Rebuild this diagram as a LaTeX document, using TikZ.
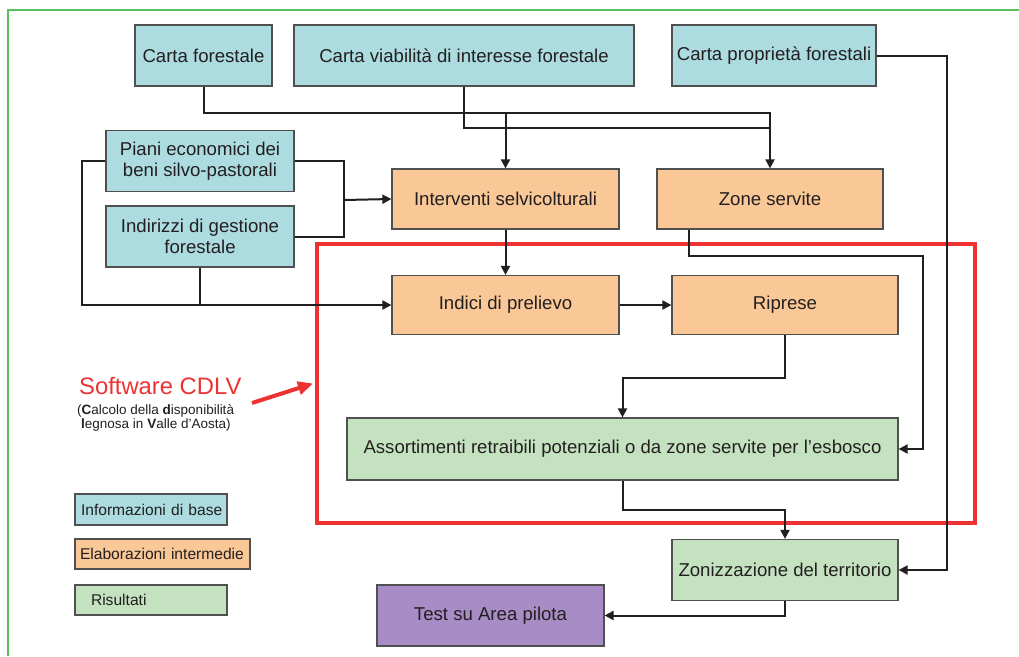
\documentclass[tikz,border=0pt]{standalone}
\usepackage{fontspec}
\setmainfont{Liberation Sans}
\usetikzlibrary{arrows.meta}

\definecolor{basecol}{RGB}{172,220,224}
\definecolor{midcol}{RGB}{250,200,150}
\definecolor{rescol}{RGB}{196,226,192}
\definecolor{testcol}{RGB}{168,140,198}
\definecolor{edgecol}{RGB}{80,80,80}
\definecolor{linecol}{RGB}{35,31,32}
\definecolor{cdlvred}{RGB}{238,50,50}
\definecolor{framegreen}{RGB}{90,190,90}

\begin{document}
\begin{tikzpicture}[x=1pt, y=-1pt,
    box/.style={draw=edgecol, line width=1.2pt, rectangle, align=center, text=linecol, inner sep=0pt, font=\fontsize{18.6}{20.5}\selectfont},
    base/.style={box, fill=basecol},
    mid/.style={box, fill=midcol},
    res/.style={box, fill=rescol},
    legend/.style={draw=edgecol, line width=1.2pt, rectangle, text=linecol, inner sep=0pt, align=left, font=\fontsize{15.6}{18}\selectfont},
    conn/.style={draw=linecol, line width=2pt, -{Triangle[length=9pt,width=9pt]}},
    link/.style={draw=linecol, line width=2pt}]

    \useasboundingbox (0,0) rectangle (1019,656);
    \draw[framegreen, line width=1.5pt] (8,656) |- (1019,10);

    % Nodes
    \node[base, minimum width=137pt, minimum height=61pt] (cartafor) at (203.5,55.5) {Carta forestale};
    \node[base, minimum width=340pt, minimum height=61pt] (cartavia) at (464,55.5) {Carta viabilità di interesse forestale};
    \node[base, minimum width=204pt, minimum height=61pt] (cartapro) at (774,55.5) {Carta proprietà forestali};
    \node[base, minimum width=188pt, minimum height=61pt] (piani) at (200,161) {Piani economici dei\\beni silvo-pastorali};
    \node[base, minimum width=188pt, minimum height=61pt] (indirizzi) at (200,236.5) {Indirizzi di gestione\\forestale};
    \node[mid, minimum width=227pt, minimum height=60pt] (interventi) at (505.5,199) {Interventi selvicolturali};
    \node[mid, minimum width=226pt, minimum height=60pt] (zone) at (770,199) {Zone servite};
    \node[mid, minimum width=227pt, minimum height=59pt] (indici) at (505.5,305) {Indici di prelievo};
    \node[mid, minimum width=226pt, minimum height=59pt] (riprese) at (785,305) {Riprese};
    \node[res, minimum width=551pt, minimum height=62pt] (assort) at (622.5,449) {Assortimenti retraibili potenziali o da zone servite per l’esbosco};
    \node[res, minimum width=226pt, minimum height=61pt] (zoniz) at (785,570) {Zonizzazione del territorio};
    \node[box, fill=testcol, minimum width=227pt, minimum height=61pt] (test) at (490.5,615.5) {Test su Area pilota};

    % Legend
    \node[legend, fill=basecol, minimum height=31pt, text width=152pt] (legbase) at (151,509.5) {\hspace*{6pt}Informazioni di base};
    \node[legend, fill=midcol, minimum height=30pt, text width=175pt] (legmid) at (162.5,554) {\hspace*{5pt}Elaborazioni intermedie};
    \node[legend, fill=rescol, minimum height=30pt, text width=152pt] (legres) at (151,600) {\hspace*{16pt}Risultati};

    % Software CDLV
    \node[draw=cdlvred, line width=4pt, minimum width=658pt, minimum height=279pt, inner sep=0pt] (cdlv) at (646,383.5) {};
    \node[anchor=base west, text=cdlvred, inner sep=0pt, font=\fontsize{23.8}{26}\selectfont] (cdlvtitle) at (79,394) {Software CDLV};
    \node[anchor=north west, text=linecol, align=left, inner sep=0pt, font=\fontsize{13.5}{14.5}\selectfont] (cdlvnote) at (77,404) {(\textbf{C}alcolo della \textbf{d}isponibilità\\\hspace*{4pt}\textbf{l}egnosa in \textbf{V}alle d’Aosta)};
    \coordinate (cdlvtail) at (252,403);
    \draw[cdlvred, line width=4pt, -{Triangle[length=15pt,width=13pt]}] (cdlvtail) -- ([xshift=-2pt]cdlv.west);

    % Arrows
    \coordinate (busA) at (0,113);
    \coordinate (busB) at (0,128);
    \coordinate (mergeA) at (344,200);
    \coordinate (loopL) at (82,0);
    \coordinate (railA) at (923,256);
    \coordinate (railB) at (947,0);
    \coordinate (stepA) at (0,378);
    \coordinate (stepB) at (0,510);

    \draw[conn] (cartafor.south) |- (zone.north |- busA) -- (zone.north);
    \draw[conn] (interventi.north |- busA) -- (interventi.north);
    \draw[link] (cartavia.south) |- (zone.north |- busB);
    \draw[link] (piani.east) -| (mergeA);
    \draw[link] (indirizzi.east) -| (mergeA);
    \draw[conn] (mergeA) -- (interventi.west);
    \draw[conn] (piani.west) -| (loopL |- indici.west) -- (indici.west);
    \draw[link] (indirizzi.south) -- (indirizzi.south |- indici.west);
    \draw[conn] (interventi) -- (indici);
    \draw[conn] (indici) -- (riprese);
    \draw[conn] ([xshift=-81pt]zone.south) |- (railA) |- (assort.east);
    \draw[conn] (cartapro.east) -| (railB |- zoniz.east) -- (zoniz.east);
    \draw[conn] (riprese.south) -- (riprese.south |- stepA) -| (assort.north);
    \draw[conn] (assort.south) -- (assort.south |- stepB) -| (zoniz.north);
    \draw[conn] (zoniz.south) |- (test.east);
\end{tikzpicture}
\end{document}
